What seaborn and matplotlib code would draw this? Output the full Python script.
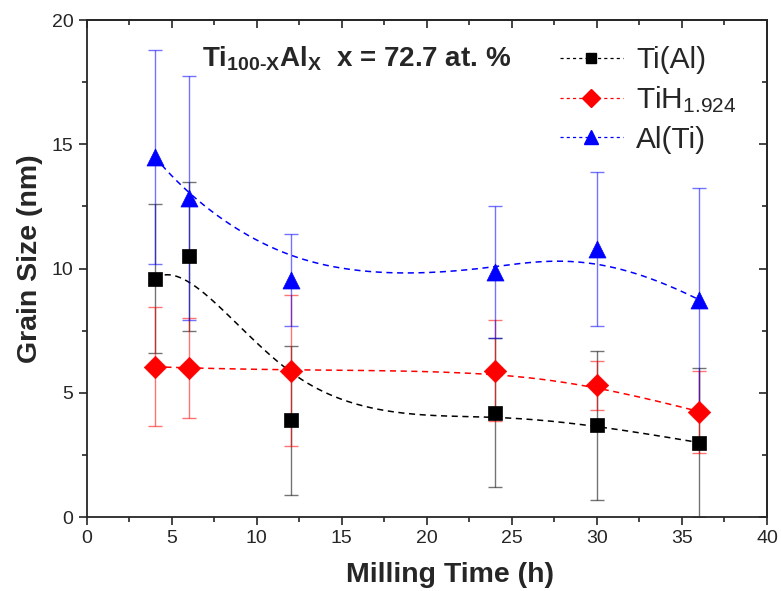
import numpy as np
import pandas as pd
import matplotlib
matplotlib.use("Agg")
import matplotlib.pyplot as plt
import seaborn as sns
from matplotlib.ticker import MultipleLocator

# data
time_h = [4, 6, 12, 24, 30, 36]
ti_al = [9.6, 10.5, 3.9, 4.2, 3.7, 3.0]
ti_al_err = [3.0, 3.0, 3.0, 3.0, 3.0, 3.0]
tih = [6.05, 6.0, 5.9, 5.9, 5.3, 4.25]
tih_err = [2.4, 2.0, 3.05, 2.05, 1.0, 1.65]
al_ti = [14.5, 12.85, 9.55, 9.85, 10.8, 8.75]
al_ti_err = [4.3, 4.9, 1.85, 2.65, 3.1, 4.5]

series_names = ["Ti(Al)", "TiH$_{1.924}$", "Al(Ti)"]
series_colors = ["black", "red", "blue"]
series_markers = ["s", "D", "^"]


def bspline(xs, ys, n=300, k=3):
    # clamped cubic B-spline using the data points as control points
    P = np.column_stack([xs, ys]).astype(float)
    m = len(P)
    knots = np.concatenate([np.zeros(k), np.linspace(0, 1, m - k + 1), np.ones(k)])
    t = np.linspace(0, 1, n)

    def basis(i, d):
        if d == 0:
            b = ((knots[i] <= t) & (t < knots[i + 1])).astype(float)
            if knots[i + 1] == 1.0 and knots[i] < 1.0:
                b[t == 1.0] = 1.0
            return b
        out = np.zeros_like(t)
        den1 = knots[i + d] - knots[i]
        den2 = knots[i + d + 1] - knots[i + 1]
        if den1 > 0:
            out += (t - knots[i]) / den1 * basis(i, d - 1)
        if den2 > 0:
            out += (knots[i + d + 1] - t) / den2 * basis(i + 1, d - 1)
        return out

    B = np.array([basis(i, k) for i in range(m)])
    C = B.T @ P
    return C[:, 0], C[:, 1]


sns.set_style("ticks")
plt.rcParams['font.family'] = ['Liberation Sans', 'DejaVu Sans']
plt.rcParams['mathtext.default'] = 'regular'

fig = plt.figure(figsize=(7.81, 5.91), dpi=100)
ax = fig.add_axes([0.111, 0.125, 0.871, 0.841])

all_vals = [ti_al, tih, al_ti]
all_errs = [ti_al_err, tih_err, al_ti_err]

rows = []
for name, vals in zip(series_names, all_vals):
    sx, sy = bspline(time_h, vals)
    rows.append(pd.DataFrame({"time": sx, "size": sy, "series": name}))
curves = pd.concat(rows, ignore_index=True)

palette = dict(zip(series_names, series_colors))
sns.lineplot(data=curves, x="time", y="size", hue="series", palette=palette,
             linestyle=(0, (4, 3)), linewidth=1.1, legend=False, ax=ax, sort=False,
             estimator=None)

for name, vals, errs, col, mk in zip(series_names, all_vals, all_errs,
                                       series_colors, series_markers):
    ax.errorbar(time_h, vals, yerr=errs, fmt="none", ecolor=col, elinewidth=1.0,
                capsize=5, capthick=1.0, alpha=0.55, zorder=2)

points = pd.concat([pd.DataFrame({"time": time_h, "size": v, "series": n})
                    for n, v in zip(series_names, all_vals)], ignore_index=True)
sizes = {"s": 110, "D": 130, "^": 150}
for name, col, mk in zip(series_names, series_colors, series_markers):
    sub = points[points["series"] == name]
    sns.scatterplot(data=sub, x="time", y="size", color=col, marker=mk,
                    s=sizes[mk], edgecolor=col, linewidth=0.5, ax=ax, zorder=4)

# legend handles
leg_sizes = {"s": 7, "D": 9, "^": 10}
handles = [plt.Line2D([], [], color=c, marker=m, linestyle=(0, (2.5, 2.5)), linewidth=0.9,
                      markersize=leg_sizes[m])
           for c, m in zip(series_colors, series_markers)]
leg = ax.legend(handles, series_names, loc="upper left", frameon=False,
                fontsize=21.5, handlelength=2.1, bbox_to_anchor=(0.665, 0.99),
                labelspacing=0.35, handletextpad=0.45, borderpad=0.2)

ax.text(0.17, 0.922, "Ti$_{100\u2010X}$Al$_X$  x = 72.7 at. %", transform=ax.transAxes,
        fontsize=20, fontweight="bold", ha="left", va="center")

ax.set_xlim(0, 40)
ax.set_ylim(0, 20)
ax.xaxis.set_major_locator(MultipleLocator(5))
ax.xaxis.set_minor_locator(MultipleLocator(2.5))
ax.yaxis.set_major_locator(MultipleLocator(5))
ax.yaxis.set_minor_locator(MultipleLocator(2.5))
ax.tick_params(which="major", direction="out", length=6, width=1.2, labelsize=14)
ax.tick_params(which="minor", direction="out", length=3.5, width=1.2)

top = ax.secondary_xaxis("top")
top.xaxis.set_major_locator(MultipleLocator(5))
top.xaxis.set_minor_locator(MultipleLocator(2.5))
top.tick_params(which="major", direction="in", length=6, width=1.2, labeltop=False)
top.tick_params(which="minor", direction="in", length=3.5, width=1.2)
right = ax.secondary_yaxis("right")
right.yaxis.set_major_locator(MultipleLocator(5))
right.yaxis.set_minor_locator(MultipleLocator(2.5))
right.tick_params(which="major", direction="in", length=6, width=1.2, labelright=False)
right.tick_params(which="minor", direction="in", length=3.5, width=1.2)

for sp in ax.spines.values():
    sp.set_visible(True)
    sp.set_linewidth(1.3)
top.spines["top"].set_linewidth(1.3)
right.spines["right"].set_linewidth(1.3)

ax.set_xlabel("Milling Time (h)", fontsize=20.5, fontweight="bold")
ax.set_ylabel("Grain Size (nm)", fontsize=20.5, fontweight="bold")
ax.xaxis.set_label_coords(0.534, -0.09)
ax.yaxis.set_label_coords(-0.064, 0.519)

fig.savefig("out.png", dpi=100)
